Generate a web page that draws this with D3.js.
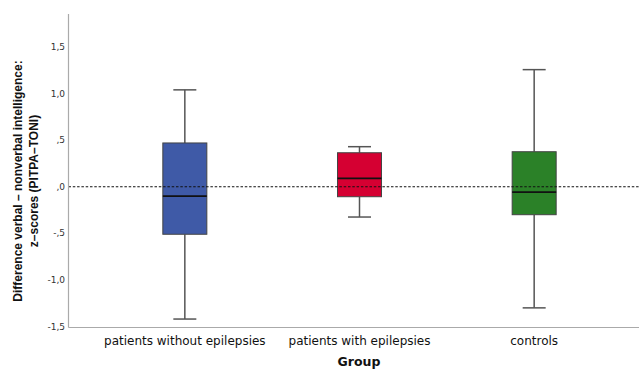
<!DOCTYPE html>
<html><head><meta charset="utf-8">
<script src="https://cdn.jsdelivr.net/npm/d3@7"></script>
<style>body{margin:0;background:#fff}svg{display:block}</style>
</head><body>
<script>
const categories = ["patients without epilepsies", "patients with epilepsies", "controls"];
const whiskerLow = [-1.42, -0.325, -1.30];
const q1 = [-0.51, -0.107, -0.30];
const median = [-0.10, 0.09, -0.057];
const q3 = [0.47, 0.365, 0.376];
const whiskerHigh = [1.04, 0.43, 1.257];
const colors = ["#3f5aa7", "#d50032", "#2b8128"];
const yTicks = [-1.5, -1.0, -0.5, 0, 0.5, 1.0, 1.5];
const yTickLabels = ["-1,5", "-1,0", "-,5", ",0", ",5", "1,0", "1,5"];
const yTitle = ["Difference verbal \u2013 nonverbal intelligence:", "z\u2013scores (PITPA\u2013TONI)"];
const xTitle = "Group";

(function () {
const W = 639, H = 369;
const svg = d3.select("body").append("svg").attr("width", W).attr("height", H);
const pLeft = 68.5, pTop = 14, pBottom = 327.5, pRight = 639;
const y = d3.scaleLinear().domain([-1.5, 1.5]).range([326.5, 47]);
const x = d3.scaleBand().domain(categories).range([97.5, 621.5]);
const boxW = 44, capW = 23;

const data = categories.map((c, i) => ({c, lo: whiskerLow[i], q1: q1[i], med: median[i], q3: q3[i], hi: whiskerHigh[i], col: colors[i]}));
const g = svg.selectAll("g.box").data(data).join("g").attr("class", "box");
const cx = d => x(d.c) + x.bandwidth() / 2;
const wc = "#555";
g.append("line").attr("x1", cx).attr("x2", cx).attr("y1", d => y(d.hi)).attr("y2", d => y(d.q3)).attr("stroke", wc).attr("stroke-width", 1.5);
g.append("line").attr("x1", cx).attr("x2", cx).attr("y1", d => y(d.q1)).attr("y2", d => y(d.lo)).attr("stroke", wc).attr("stroke-width", 1.5);
g.append("line").attr("x1", d => cx(d) - capW / 2).attr("x2", d => cx(d) + capW / 2).attr("y1", d => y(d.hi)).attr("y2", d => y(d.hi)).attr("stroke", wc).attr("stroke-width", 1.5);
g.append("line").attr("x1", d => cx(d) - capW / 2).attr("x2", d => cx(d) + capW / 2).attr("y1", d => y(d.lo)).attr("y2", d => y(d.lo)).attr("stroke", wc).attr("stroke-width", 1.5);
g.append("rect").attr("x", d => cx(d) - boxW / 2).attr("width", boxW)
  .attr("y", d => y(d.q3)).attr("height", d => y(d.q1) - y(d.q3))
  .attr("fill", d => d.col).attr("stroke", "#444").attr("stroke-width", 1);

// dotted zero line
svg.append("line").attr("x1", pLeft).attr("x2", pRight).attr("y1", y(0)).attr("y2", y(0))
  .attr("stroke", "#111").attr("stroke-width", 1.2).attr("stroke-dasharray", "2.5,1.8");

g.append("line").attr("x1", d => cx(d) - boxW / 2).attr("x2", d => cx(d) + boxW / 2).attr("y1", d => y(d.med)).attr("y2", d => y(d.med)).attr("stroke", "#111").attr("stroke-width", 1.8);

// axes lines
svg.append("line").attr("x1", pLeft).attr("x2", pLeft).attr("y1", pTop).attr("y2", pBottom).attr("stroke", "#aaa").attr("stroke-width", 1.2);
svg.append("line").attr("x1", pLeft).attr("x2", pRight).attr("y1", pBottom).attr("y2", pBottom).attr("stroke", "#aaa").attr("stroke-width", 1.2);

const font = "'DejaVu Sans', sans-serif";
svg.selectAll("text.ytick").data(yTicks).join("text").attr("class", "ytick")
  .attr("x", 65).attr("y", d => y(d)).attr("dy", "0.35em").attr("text-anchor", "end")
  .attr("font-family", font).attr("font-size", 9).attr("fill", "#333")
  .text((d, i) => yTickLabels[i]);

svg.selectAll("text.xcat").data(categories).join("text").attr("class", "xcat")
  .attr("x", d => x(d) + x.bandwidth() / 2).attr("y", 345).attr("text-anchor", "middle")
  .attr("font-family", font).attr("font-size", 12).attr("fill", "#111").text(d => d);

svg.append("text").attr("x", 359).attr("y", 366).attr("text-anchor", "middle")
  .attr("font-family", font).attr("font-size", 12.5).attr("font-weight", "bold").attr("fill", "#111").text(xTitle);

const yt = svg.append("text").attr("transform", "translate(0,181) rotate(-90)")
  .attr("text-anchor", "middle").attr("font-family", "'Liberation Sans', Arial, sans-serif").attr("font-size", 12)
  .attr("font-weight", "bold").attr("fill", "#111");
yt.selectAll("tspan").data(yTitle).join("tspan").attr("x", 0).attr("y", (d, i) => 22 + i * 16).text(d => d);
})();
</script>
</body></html>
